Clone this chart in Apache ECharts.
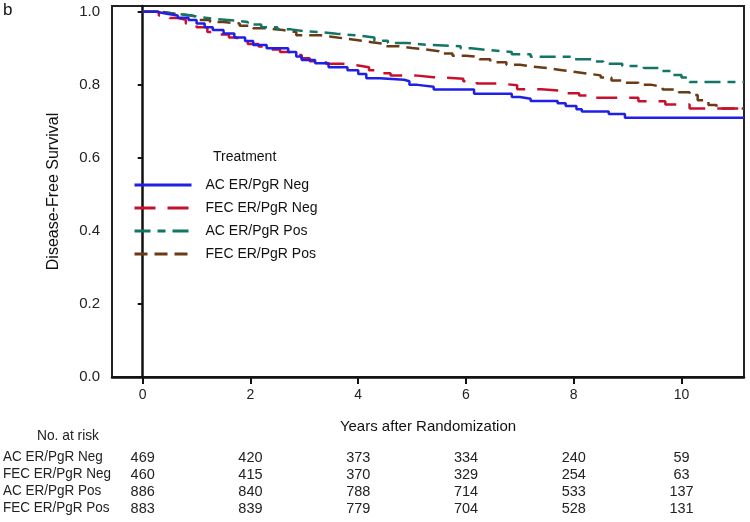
<!DOCTYPE html>
<html><head><meta charset="utf-8">
<script src="https://cdn.jsdelivr.net/npm/echarts@6/dist/echarts.min.js"></script>
<style>html,body{margin:0;padding:0;background:#fff}#c{width:750px;height:522px}</style>
</head><body><div id="c"></div>
<script>
// ---- data ----
const seriesNames = ['AC ER/PgR Neg', 'FEC ER/PgR Neg', 'AC ER/PgR Pos', 'FEC ER/PgR Pos'];
const acNeg = [[0,1],[0.25,0.995],[0.45,0.99],[0.65,0.984],[0.85,0.978],[1.0,0.968],[1.15,0.958],[1.3,0.95],[1.5,0.941],[1.7,0.93],[1.9,0.92],[2.05,0.909],[2.3,0.9],[2.7,0.89],[2.85,0.878],[2.95,0.868],[3.2,0.859],[3.45,0.848],[3.8,0.84],[4.0,0.83],[4.15,0.818],[4.4,0.814],[4.85,0.81],[4.95,0.8],[5.1,0.795],[5.4,0.787],[6.15,0.776],[6.85,0.767],[7.0,0.762],[7.2,0.756],[7.7,0.75],[7.85,0.742],[8.05,0.733],[8.15,0.727],[8.65,0.72],[8.95,0.71],[11.16,0.71]];
const fecNeg = [[0,1],[0.3,0.99],[0.5,0.983],[0.65,0.978],[0.8,0.968],[1.0,0.958],[1.2,0.945],[1.35,0.938],[1.6,0.93],[1.75,0.921],[1.95,0.912],[2.15,0.905],[2.3,0.897],[2.55,0.89],[2.75,0.882],[2.95,0.873],[3.1,0.865],[3.4,0.858],[3.7,0.853],[4.0,0.848],[4.2,0.84],[4.45,0.832],[4.6,0.826],[5.05,0.821],[5.4,0.817],[5.95,0.81],[6.2,0.804],[6.6,0.799],[6.95,0.788],[7.4,0.784],[7.8,0.777],[8.1,0.771],[8.35,0.765],[9.2,0.755],[9.7,0.746],[10.15,0.735],[11.16,0.735]];
const acPos = [[0,1],[0.3,0.995],[0.6,0.99],[0.9,0.985],[1.1,0.98],[1.4,0.976],[1.75,0.972],[1.95,0.965],[2.2,0.958],[2.5,0.952],[2.75,0.947],[3.0,0.944],[3.35,0.94],[3.6,0.935],[4.0,0.93],[4.3,0.921],[4.55,0.915],[4.9,0.91],[5.25,0.906],[5.9,0.9],[6.1,0.895],[6.45,0.89],[6.85,0.884],[7.2,0.877],[7.95,0.87],[8.4,0.864],[8.55,0.858],[8.9,0.852],[9.3,0.846],[9.6,0.838],[9.85,0.827],[10.0,0.82],[10.15,0.808],[11.16,0.808]];
const fecPos = [[0,1],[0.35,0.995],[0.6,0.99],[0.9,0.985],[1.05,0.978],[1.25,0.972],[1.5,0.968],[1.8,0.962],[2.05,0.955],[2.3,0.95],[2.6,0.945],[2.85,0.936],[3.3,0.932],[3.5,0.927],[3.75,0.922],[4.0,0.917],[4.25,0.912],[4.5,0.906],[4.75,0.901],[5.0,0.897],[5.25,0.892],[5.5,0.886],[5.75,0.88],[6.0,0.876],[6.25,0.87],[6.45,0.862],[6.75,0.855],[7.0,0.85],[7.25,0.846],[7.5,0.841],[7.75,0.836],[8.0,0.831],[8.25,0.826],[8.5,0.82],[8.7,0.812],[8.95,0.806],[9.2,0.8],[9.45,0.795],[9.65,0.787],[9.95,0.78],[10.15,0.772],[10.3,0.758],[10.5,0.745],[10.65,0.735],[11.16,0.735]];
const xTicks = [0, 2, 4, 6, 8, 10];
const yTicks = [0, 0.2, 0.4, 0.6, 0.8, 1.0];
const riskAcNeg = [469, 420, 373, 334, 240, 59];
const riskFecNeg = [460, 415, 370, 329, 254, 63];
const riskAcPos = [886, 840, 788, 714, 533, 137];
const riskFecPos = [883, 839, 779, 704, 528, 131];

// ---- styling ----
const colors = ['#1f1fe8', '#c8102e', '#137565', '#6a3b14'];
const dashes = ['solid', [21, 12], [16, 7, 8, 7], [13, 7]];
const curves = [acNeg, fecNeg, acPos, fecPos];
const risks = [riskAcNeg, riskFecNeg, riskAcPos, riskFecPos];
const XMIN = -0.57, XMAX = 11.16;
const sans = "'Liberation Sans', Arial, sans-serif";

const chart = echarts.init(document.getElementById('c'), null, {renderer: 'canvas'});

const xAxes = [{
  type: 'value', min: XMIN, max: XMAX, gridIndex: 0, position: 'bottom',
  name: 'Years after Randomization', nameLocation: 'middle', nameGap: 42,
  nameTextStyle: {fontFamily: sans, fontSize: 15, color: '#111'},
  axisLine: {show: true, onZero: false, lineStyle: {color: '#111', width: 2.5}},
  axisTick: {show: true, length: 7, customValues: xTicks, lineStyle: {color: '#111', width: 2}},
  axisLabel: {customValues: xTicks, margin: 11, fontFamily: sans, fontSize: 14, color: '#222'},
  splitLine: {show: false}
}];
risks.forEach((r, i) => {
  xAxes.push({
    type: 'value', min: XMIN, max: XMAX, gridIndex: 0, position: 'bottom', offset: 73 + i * 17,
    axisLine: {show: false}, axisTick: {show: false}, splitLine: {show: false},
    axisLabel: {customValues: xTicks, margin: 0, fontFamily: sans, fontSize: 14.5, color: '#222',
      formatter: v => { const k = xTicks.indexOf(Math.round(v)); return k >= 0 ? String(r[k]) : ''; }}
  });
});

const series = curves.map((d, i) => ({
  name: seriesNames[i], type: 'line', data: d, step: 'end', showSymbol: false, symbol: 'none',
  xAxisIndex: 0, yAxisIndex: 0,
  lineStyle: {color: colors[i], width: 2.5, type: dashes[i], cap: 'butt'},
  itemStyle: {color: colors[i]}, z: 4 - i
}));

const rowLabels = seriesNames.map((n, i) => ({
  type: 'text', x: 3, y: 449 + i * 17, scaleX: 0.9,
  style: {text: n, font: "15px " + sans, fill: '#222'}
}));

chart.setOption({
  animation: false,
  backgroundColor: '#fff',
  grid: {left: 112, right: 6, top: 6, bottom: 145, show: true, borderColor: '#222', borderWidth: 2, backgroundColor: 'transparent'},
  xAxis: xAxes,
  yAxis: {
    type: 'value', min: 0, max: 1.016,
    name: 'Disease-Free Survival', nameLocation: 'middle', nameGap: 50, nameRotate: 90,
    nameTextStyle: {fontFamily: sans, fontSize: 16, color: '#111'},
    axisLine: {show: true, lineStyle: {color: '#111', width: 2.5}},
    axisTick: {show: true, length: 5, customValues: yTicks, lineStyle: {color: '#111', width: 2}},
    axisLabel: {customValues: yTicks, margin: 12, fontFamily: sans, fontSize: 15, color: '#222',
      formatter: v => v.toFixed(1)},
    splitLine: {show: false}
  },
  legend: {
    orient: 'vertical', left: 128, top: 173, itemWidth: 57, itemHeight: 14, itemGap: 9,
    itemStyle: {opacity: 0, borderWidth: 0},
    lineStyle: {width: 3, opacity: 1},
    textStyle: {fontFamily: sans, fontSize: 14, color: '#111', padding: [0, 0, 0, 9]},
    data: seriesNames, selectedMode: false
  },
  graphic: [
    {type: 'text', left: 3, top: 2, style: {text: 'b', font: "17px " + sans, fill: '#111'}},
    {type: 'text', left: 213, top: 150, style: {text: 'Treatment', font: "14px " + sans, fill: '#111'}},
    {type: 'text', x: 37, y: 428, scaleX: 0.95, style: {text: 'No. at risk', font: "14.5px " + sans, fill: '#222'}}
  ].concat(rowLabels),
  series: series
});
</script>
</body></html>
